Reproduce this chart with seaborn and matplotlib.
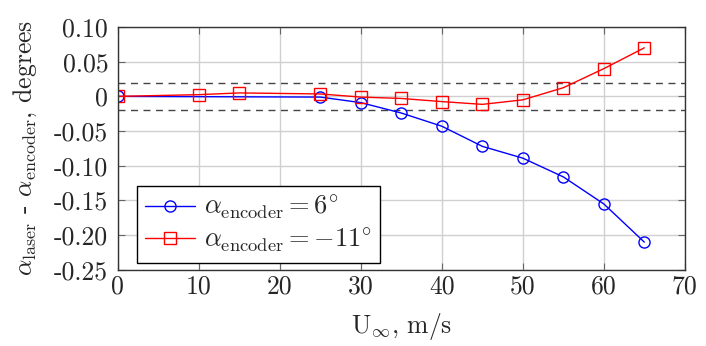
import numpy as np
import pandas as pd
import seaborn as sns
import matplotlib.pyplot as plt

# speeds and angle differences
u_pos = [0, 25, 30, 35, 40, 45, 50, 55, 60, 65]
diff_pos = [0.0, -0.001, -0.009, -0.024, -0.043, -0.072, -0.089, -0.116, -0.155, -0.210]

u_neg = [0, 10, 15, 25, 30, 35, 40, 45, 50, 55, 60, 65]
diff_neg = [0.0, 0.0025, 0.005, 0.0035, -0.001, -0.003, -0.0075, -0.0115, -0.005, 0.0125, 0.040, 0.070]

yticks = [0.10, 0.05, 0.0, -0.05, -0.10, -0.15, -0.20, -0.25]
ytick_labels = ["0.10", "0.05", "0", "-0.05", "-0.10", "-0.15", "-0.20", "-0.25"]
xticks = [0, 10, 20, 30, 40, 50, 60, 70]

df_pos = pd.DataFrame({"U": u_pos, "diff": diff_pos})
df_neg = pd.DataFrame({"U": u_neg, "diff": diff_neg})

sns.set_style("whitegrid")
plt.rcParams["font.family"] = "serif"
plt.rcParams["font.serif"] = ["cmr10", "DejaVu Serif"]
plt.rcParams["mathtext.fontset"] = "cm"
plt.rcParams["axes.unicode_minus"] = False

fig, ax = plt.subplots(figsize=(7.06, 3.46), dpi=100)
fig.subplots_adjust(left=0.167, right=0.970, top=0.922, bottom=0.220)

sns.lineplot(data=df_pos, x="U", y="diff", ax=ax, color="blue", marker="o",
             markersize=8, mfc="none", mec="blue", mew=1.0, lw=1.0,
             label=r"$\alpha_{\mathrm{encoder}} = 6^{\circ}$")
sns.lineplot(data=df_neg, x="U", y="diff", ax=ax, color="red", marker="s",
             markersize=8, mfc="none", mec="red", mew=1.0, lw=1.0,
             label=r"$\alpha_{\mathrm{encoder}} = -11^{\circ}$")

# tolerance band
ax.axhline(0.02, color="#444444", ls=(0, (5, 4)), lw=1.0, zorder=1)
ax.axhline(-0.02, color="#444444", ls=(0, (5, 4)), lw=1.0, zorder=1)

ax.set_xlim(0, 70)
ax.set_ylim(-0.25, 0.10)
ax.set_xticks(xticks)
ax.set_yticks(yticks)
ax.set_yticklabels(ytick_labels)
ax.tick_params(labelsize=18.5, direction="in", length=5, color="#666666",
               top=True, right=True, bottom=True, left=True)
ax.tick_params(axis="y", pad=7)
ax.grid(True, color="#d0d0d0", lw=1.0)
for s in ax.spines.values():
    s.set_color("#333333")
    s.set_linewidth(1.0)

ax.set_xlabel(r"U$_{\infty}$, m/s", fontsize=18.5, labelpad=9)
ax.set_ylabel(r"$\alpha_{\mathrm{laser}}$ - $\alpha_{\mathrm{encoder}}$, degrees", fontsize=18.5)
ax.yaxis.set_label_coords(-0.140, 0.5)

leg = ax.legend(loc="lower left", bbox_to_anchor=(0.034, 0.029), borderaxespad=0,
                fontsize=19, frameon=True, fancybox=False, edgecolor="black",
                framealpha=1, handlelength=1.9, handletextpad=0.35,
                borderpad=0.3, labelspacing=0.15)
leg.get_frame().set_linewidth(1.0)

fig.savefig("out.png", dpi=100)
